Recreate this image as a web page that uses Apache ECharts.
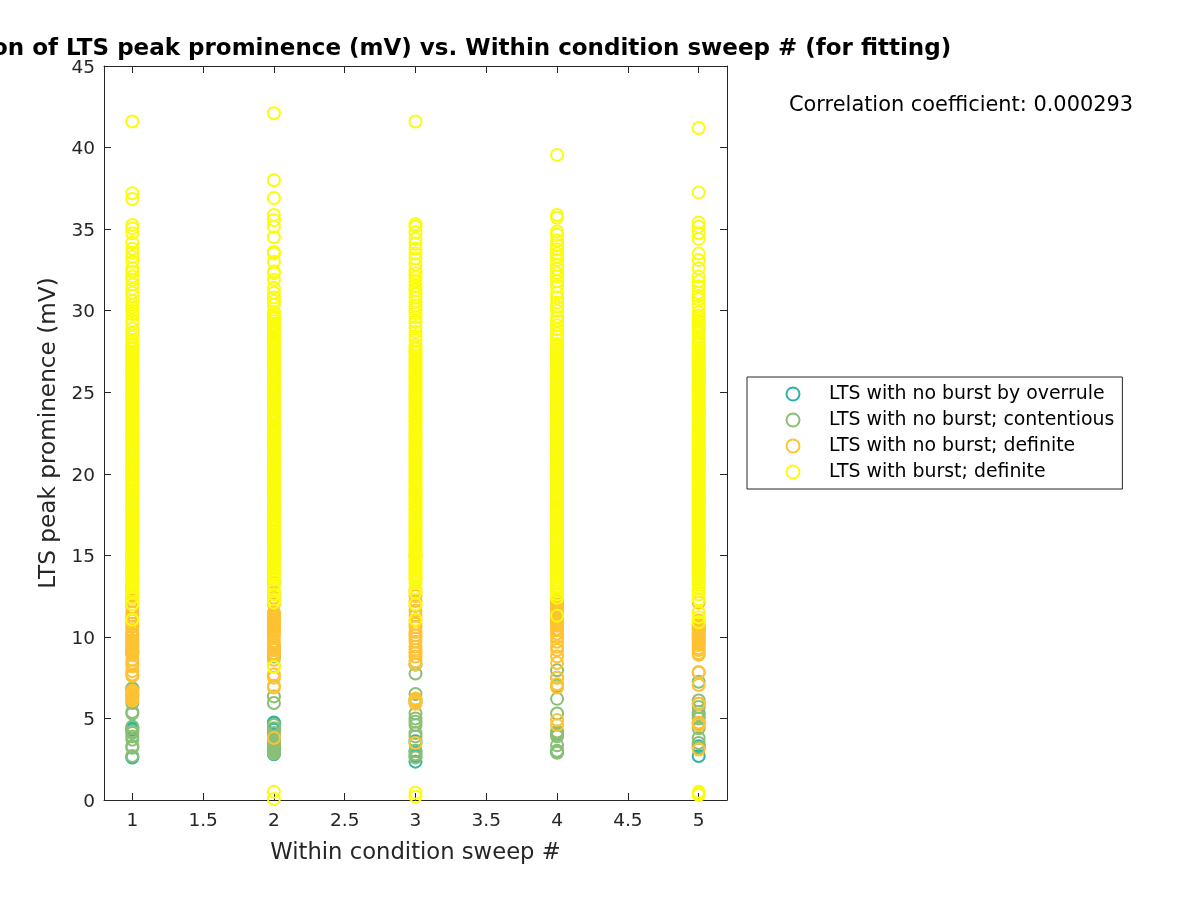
<!DOCTYPE html>
<html>
<head>
<meta charset="utf-8">
<title>LTS peak prominence vs sweep</title>
<script src="https://cdn.jsdelivr.net/npm/echarts@6/dist/echarts.min.js"></script>
<style>
  html, body { margin: 0; padding: 0; background: #fff; }
  #chart { width: 1200px; height: 900px; }
</style>
</head>
<body>
<div id="chart"></div>
<script>
const sweeps = [1, 2, 3, 4, 5];
const xTicks = [1, 1.5, 2, 2.5, 3, 3.5, 4, 4.5, 5];
const legendNames = ['LTS with no burst by overrule', 'LTS with no burst; contentious', 'LTS with no burst; definite', 'LTS with burst; definite'];
const titleText = 'Correlation of LTS peak prominence (mV) vs. Within condition sweep # (for fitting)';
const corrText = 'Correlation coefficient: 0.000293';

// values, one list per sweep
const overrule1 = [2.6, 2.65, 4.3, 4.4];
const overrule2 = [2.8, 3.0, 3.1, 3.3, 3.7, 4.3, 4.7, 4.75, 8.9, 9.4];
const overrule3 = [2.35, 2.7, 3.0, 3.6, 8.3];
const overrule4 = [3.0];
const overrule5 = [2.7, 3.3];

const contentious1 = [2.7, 3.2, 3.3, 3.7, 3.9, 4.1, 4.2, 4.5, 5.3, 5.4, 5.95, 6.4, 6.8, 6.85, 9.0];
const contentious2 = [2.85, 2.95, 3.0, 3.1, 3.2, 3.3, 3.4, 3.5, 3.6, 3.9, 4.1, 4.4, 4.6, 5.95, 6.35, 8.8, 9.0, 9.2];
const contentious3 = [2.6, 2.8, 3.0, 3.5, 3.9, 4.1, 4.6, 4.8, 5.0, 5.3, 6.0, 6.2, 6.5, 7.75];
const contentious4 = [2.9, 3.0, 3.35, 3.9, 4.0, 4.1, 4.2, 5.3, 6.2, 7.0, 7.5, 7.95];
const contentious5 = [3.2, 3.5, 3.8, 4.4, 4.7, 5.0, 5.2, 5.4, 5.7, 5.9, 6.1, 7.25];

const noBurst1 = [6.1, 6.2, 6.3, 6.4, 6.5, 6.6, 6.7, 7.6, 7.7, 7.9, 8.2, 8.4, 8.6, 8.9, 9.0, 9.1, 9.2, 9.3, 9.4, 9.5, 9.6, 9.7, 9.8, 10.0, 10.1, 10.2, 10.4, 10.6, 10.8, 11.0, 11.1, 11.3, 11.5, 11.8, 12.0, 12.2, 12.4, 12.6, 12.9, 13.2, 14.2, 15.0];
const noBurst2 = [3.8, 6.9, 7.0, 7.5, 7.7, 8.2, 8.6, 8.9, 9.0, 9.2, 9.4, 9.5, 9.7, 10.0, 10.15, 10.3, 10.4, 10.5, 10.6, 10.7, 10.8, 10.9, 11.0, 11.1, 11.2, 11.3, 11.4, 11.5, 12.0, 12.4, 12.7, 13.3];
const noBurst3 = [3.5, 5.9, 6.0, 6.1, 6.2, 8.3, 8.5, 8.8, 9.0, 9.2, 9.4, 9.7, 9.9, 10.1, 10.3, 10.6, 10.8, 11.0, 11.3, 11.6, 11.9, 12.2, 12.5, 12.8, 15.0];
const noBurst4 = [4.6, 4.9, 6.9, 7.1, 7.5, 8.4, 8.8, 9.2, 9.4, 9.7, 10.0, 10.2, 10.4, 10.5, 10.7, 10.8, 10.9, 11.0, 11.1, 11.2, 11.3, 11.4, 11.5, 11.6, 11.7, 11.8, 11.9, 12.0, 12.1, 12.2, 12.3];
const noBurst5 = [3.1, 4.6, 4.75, 5.9, 7.05, 7.8, 7.85, 8.9, 9.0, 9.2, 9.3, 9.5, 9.6, 9.7, 9.8, 9.9, 10.0, 10.1, 10.2, 10.3, 10.4, 10.5, 10.6, 10.7, 10.8, 11.0, 11.5, 12.1];

const burst1 = [11.05, 12.0, 12.4, 12.7, 12.85, 13.05, 13.2, 13.3, 13.45, 13.6, 13.7, 13.85, 14.0, 14.1, 14.2, 14.35, 14.5, 14.6, 14.75, 14.9, 15.0, 15.1, 15.25, 15.4, 15.5, 15.65, 15.75, 15.9, 16.0, 16.15, 16.3, 16.4, 16.5, 16.65, 16.8, 16.9, 17.05, 17.15, 17.3, 17.4, 17.55, 17.7, 17.8, 17.95, 18.05, 18.2, 18.3, 18.45, 18.55, 18.7, 18.85, 18.95, 19.1, 19.2, 19.35, 19.45, 19.6, 19.7, 19.85, 20.0, 20.1, 20.2, 20.35, 20.45, 20.6, 20.75, 20.85, 21.0, 21.1, 21.25, 21.35, 21.5, 21.6, 21.75, 21.85, 22.0, 22.15, 22.25, 22.4, 22.5, 22.65, 22.75, 22.9, 23.0, 23.15, 23.3, 23.4, 23.5, 23.65, 23.8, 23.9, 24.05, 24.15, 24.3, 24.4, 24.55, 24.7, 24.8, 24.95, 25.05, 25.2, 25.3, 25.45, 25.55, 25.7, 25.85, 25.95, 26.1, 26.2, 26.35, 26.45, 26.6, 26.75, 26.85, 27.0, 27.1, 27.25, 27.35, 27.5, 27.65, 27.75, 27.9, 28.05, 28.2, 28.4, 28.6, 28.9, 29.2, 29.4, 29.8, 30.0, 30.2, 30.35, 30.6, 30.9, 31.1, 31.35, 31.6, 31.9, 32.1, 32.4, 32.6, 33.0, 33.3, 33.55, 33.8, 34.17, 34.75, 35.05, 35.25, 36.85, 37.2, 41.6];
const burst2 = [0.06, 0.5, 8.15, 12.1, 12.3, 12.6, 12.9, 13.2, 13.5, 13.65, 13.8, 13.9, 14.05, 14.2, 14.3, 14.45, 14.6, 14.7, 14.85, 14.95, 15.1, 15.2, 15.35, 15.5, 15.6, 15.75, 15.85, 16.0, 16.1, 16.25, 16.4, 16.5, 16.65, 16.75, 16.9, 17.0, 17.15, 17.25, 17.4, 17.55, 17.65, 17.8, 17.9, 18.05, 18.15, 18.3, 18.4, 18.55, 18.7, 18.8, 18.95, 19.05, 19.2, 19.3, 19.45, 19.6, 19.7, 19.85, 19.95, 20.1, 20.2, 20.35, 20.5, 20.6, 20.75, 20.85, 21.0, 21.1, 21.25, 21.4, 21.5, 21.65, 21.75, 21.9, 22.0, 22.15, 22.3, 22.4, 22.55, 22.65, 22.8, 22.9, 23.05, 23.2, 23.3, 23.45, 23.55, 23.7, 23.8, 23.95, 24.1, 24.2, 24.35, 24.45, 24.6, 24.7, 24.85, 25.0, 25.1, 25.25, 25.35, 25.5, 25.6, 25.75, 25.9, 26.0, 26.15, 26.25, 26.4, 26.5, 26.65, 26.8, 26.9, 27.05, 27.15, 27.3, 27.4, 27.55, 27.7, 27.8, 27.95, 28.05, 28.2, 28.3, 28.45, 28.6, 28.7, 28.85, 28.95, 29.1, 29.2, 29.35, 29.5, 29.6, 29.75, 29.9, 30.35, 30.6, 30.8, 31.1, 31.4, 31.9, 32.3, 32.4, 33.0, 33.5, 33.6, 34.5, 35.15, 35.55, 35.87, 36.9, 38.0, 42.1];
const burst3 = [0.2, 0.45, 11.05, 12.0, 12.7, 13.0, 13.3, 13.5, 13.6, 13.75, 13.85, 14.0, 14.15, 14.25, 14.4, 14.5, 14.65, 14.8, 14.9, 15.05, 15.15, 15.3, 15.4, 15.55, 15.7, 15.8, 15.95, 16.05, 16.2, 16.3, 16.45, 16.6, 16.7, 16.85, 16.95, 17.1, 17.2, 17.35, 17.5, 17.6, 17.75, 17.85, 18.0, 18.1, 18.25, 18.4, 18.5, 18.65, 18.75, 18.9, 19.0, 19.15, 19.3, 19.4, 19.55, 19.65, 19.8, 19.9, 20.05, 20.2, 20.3, 20.45, 20.55, 20.7, 20.8, 20.95, 21.1, 21.2, 21.35, 21.45, 21.6, 21.7, 21.85, 22.0, 22.1, 22.25, 22.35, 22.5, 22.6, 22.75, 22.9, 23.0, 23.15, 23.25, 23.4, 23.5, 23.65, 23.8, 23.9, 24.05, 24.15, 24.3, 24.4, 24.55, 24.7, 24.8, 24.95, 25.05, 25.2, 25.3, 25.45, 25.6, 25.7, 25.85, 25.95, 26.1, 26.2, 26.35, 26.5, 26.6, 26.75, 26.85, 27.0, 27.1, 27.25, 27.4, 27.5, 27.65, 27.75, 27.9, 28.2, 28.45, 28.7, 29.0, 29.3, 29.6, 29.85, 30.1, 30.3, 30.55, 30.8, 31.0, 31.25, 31.5, 31.8, 32.05, 32.3, 32.5, 32.85, 33.2, 33.5, 33.8, 34.1, 34.4, 34.8, 35.15, 35.3, 41.6];
const burst4 = [11.3, 12.4, 12.6, 12.8, 12.95, 13.1, 13.25, 13.4, 13.5, 13.65, 13.8, 13.9, 14.05, 14.15, 14.3, 14.4, 14.55, 14.7, 14.8, 14.95, 15.05, 15.2, 15.3, 15.45, 15.6, 15.7, 15.85, 15.95, 16.1, 16.2, 16.35, 16.5, 16.6, 16.75, 16.85, 17.0, 17.1, 17.25, 17.4, 17.5, 17.65, 17.75, 17.9, 18.0, 18.15, 18.3, 18.4, 18.55, 18.65, 18.8, 18.9, 19.05, 19.2, 19.3, 19.45, 19.55, 19.7, 19.8, 19.95, 20.1, 20.2, 20.35, 20.45, 20.6, 20.7, 20.85, 21.0, 21.1, 21.25, 21.35, 21.5, 21.6, 21.75, 21.9, 22.0, 22.15, 22.25, 22.4, 22.5, 22.65, 22.8, 22.9, 23.05, 23.15, 23.3, 23.4, 23.55, 23.7, 23.8, 23.95, 24.05, 24.2, 24.3, 24.45, 24.6, 24.7, 24.85, 24.95, 25.1, 25.2, 25.35, 25.5, 25.6, 25.75, 25.85, 26.0, 26.1, 26.25, 26.4, 26.5, 26.65, 26.75, 26.9, 27.0, 27.15, 27.3, 27.4, 27.55, 27.65, 27.8, 27.95, 28.2, 28.4, 28.6, 28.85, 29.1, 29.35, 29.6, 30.0, 30.25, 30.5, 30.8, 31.1, 31.5, 31.8, 32.1, 32.3, 32.55, 32.8, 33.1, 33.3, 33.5, 33.75, 34.0, 34.3, 34.65, 34.85, 35.7, 35.87, 39.55];
const burst5 = [0.3, 0.4, 0.5, 10.9, 11.2, 11.5, 12.3, 12.6, 12.8, 13.0, 13.2, 13.35, 13.5, 13.6, 13.75, 13.85, 14.0, 14.1, 14.25, 14.4, 14.5, 14.65, 14.75, 14.9, 15.0, 15.15, 15.3, 15.4, 15.55, 15.65, 15.8, 15.9, 16.05, 16.2, 16.3, 16.45, 16.55, 16.7, 16.8, 16.95, 17.1, 17.2, 17.35, 17.45, 17.6, 17.7, 17.85, 18.0, 18.1, 18.25, 18.35, 18.5, 18.6, 18.75, 18.9, 19.0, 19.15, 19.25, 19.4, 19.5, 19.65, 19.8, 19.9, 20.05, 20.15, 20.3, 20.4, 20.55, 20.7, 20.8, 20.95, 21.05, 21.2, 21.3, 21.45, 21.6, 21.7, 21.85, 21.95, 22.1, 22.2, 22.35, 22.5, 22.6, 22.75, 22.85, 23.0, 23.1, 23.25, 23.4, 23.5, 23.65, 23.75, 23.9, 24.0, 24.15, 24.3, 24.4, 24.55, 24.65, 24.8, 24.9, 25.05, 25.2, 25.3, 25.45, 25.55, 25.7, 25.8, 25.95, 26.1, 26.2, 26.35, 26.45, 26.6, 26.7, 26.85, 27.0, 27.1, 27.25, 27.35, 27.5, 27.6, 27.75, 27.9, 28.0, 28.15, 28.4, 28.65, 28.75, 28.9, 29.0, 29.15, 29.3, 29.4, 29.55, 29.7, 29.9, 30.3, 30.7, 30.9, 31.1, 31.5, 31.8, 32.1, 32.6, 33.1, 33.5, 34.4, 34.75, 35.15, 35.4, 37.25, 41.2];

const overrule = [overrule1, overrule2, overrule3, overrule4, overrule5];
const contentious = [contentious1, contentious2, contentious3, contentious4, contentious5];
const noBurst = [noBurst1, noBurst2, noBurst3, noBurst4, noBurst5];
const burst = [burst1, burst2, burst3, burst4, burst5];
const colors = ['#2cb5a0', '#8abf75', '#fec232', '#fbfb0c'];

const fontName = 'DejaVu Sans';
const inkColor = '#262626';

function toPoints(lists) {
  const points = [];
  lists.forEach((list, i) => {
    list.forEach(v => points.push([sweeps[i], v]));
  });
  return points;
}

function makeSeries(name, lists, color) {
  return {
    name: name,
    type: 'scatter',
    symbol: 'circle',
    symbolSize: 12,
    data: toPoints(lists),
    itemStyle: {
      color: 'rgba(0,0,0,0)',
      borderColor: color,
      borderWidth: 2,
      opacity: 1
    },
    emphasis: { disabled: true }
  };
}

const chart = echarts.init(document.getElementById('chart'), null, { renderer: 'canvas' });
chart.setOption({
  animation: false,
  backgroundColor: '#fff',
  title: [
    {
      text: titleText,
      left: 415,
      top: 37.5,
      textAlign: 'center',
      padding: 0,
      textStyle: { fontFamily: fontName, fontWeight: 'bold', fontSize: 23, color: '#000' }
    },
    {
      text: corrText,
      left: 789,
      top: 95.5,
      padding: 0,
      textStyle: { fontFamily: fontName, fontWeight: 'normal', fontSize: 20.9, color: '#000' }
    }
  ],
  legend: {
    orient: 'vertical',
    left: 747,
    top: 377,
    padding: [7.5, 8, 7.5, 38.5],
    itemWidth: 62,
    itemHeight: 13,
    itemGap: 7,
    icon: 'circle',
    selectedMode: false,
    borderColor: inkColor,
    borderWidth: 1,
    backgroundColor: '#fff',
    borderRadius: 0,
    textStyle: { fontFamily: fontName, fontSize: 18.9, color: '#000' },
    itemStyle: { borderWidth: 2 },
    data: legendNames
  },
  grid: { left: 104, right: 473, top: 66, bottom: 100, containLabel: false },
  xAxis: [
    {
      type: 'value',
      min: 0.8,
      max: 5.2,
      name: 'Within condition sweep #',
      nameLocation: 'middle',
      nameGap: 42,
      nameTextStyle: { fontFamily: fontName, fontSize: 22.7, color: inkColor },
      axisLine: { onZero: false, lineStyle: { color: inkColor, width: 1 } },
      axisTick: { inside: true, length: 7, customValues: xTicks, lineStyle: { color: inkColor } },
      axisLabel: { customValues: xTicks, margin: 12, fontFamily: fontName, fontSize: 18.5, color: inkColor },
      splitLine: { show: false }
    },
    {
      type: 'value',
      position: 'top',
      min: 0.8,
      max: 5.2,
      axisLine: { onZero: false, lineStyle: { color: inkColor, width: 1 } },
      axisTick: { inside: true, length: 7, customValues: xTicks, lineStyle: { color: inkColor } },
      axisLabel: { show: false },
      splitLine: { show: false }
    }
  ],
  yAxis: [
    {
      type: 'value',
      min: 0,
      max: 45,
      interval: 5,
      name: 'LTS peak prominence (mV)',
      nameLocation: 'middle',
      nameGap: 42,
      nameTextStyle: { fontFamily: fontName, fontSize: 23.2, color: inkColor },
      axisLine: { onZero: false, lineStyle: { color: inkColor, width: 1 } },
      axisTick: { show: true, inside: true, length: 7, lineStyle: { color: inkColor } },
      axisLabel: {
        margin: 9,
        formatter: '{tick|{value}}',
        rich: { tick: { padding: [4, 0, 0, 0], fontFamily: fontName, fontSize: 18.5, color: inkColor } }
      },
      splitLine: { show: false }
    },
    {
      type: 'value',
      position: 'right',
      min: 0,
      max: 45,
      interval: 5,
      axisLine: { show: true, onZero: false, lineStyle: { color: inkColor, width: 1 } },
      axisTick: { show: true, inside: true, length: 7, lineStyle: { color: inkColor } },
      axisLabel: { show: false },
      splitLine: { show: false }
    }
  ],
  series: [
    makeSeries(legendNames[0], overrule, colors[0]),
    makeSeries(legendNames[1], contentious, colors[1]),
    makeSeries(legendNames[2], noBurst, colors[2]),
    makeSeries(legendNames[3], burst, colors[3])
  ]
});
</script>
</body>
</html>
